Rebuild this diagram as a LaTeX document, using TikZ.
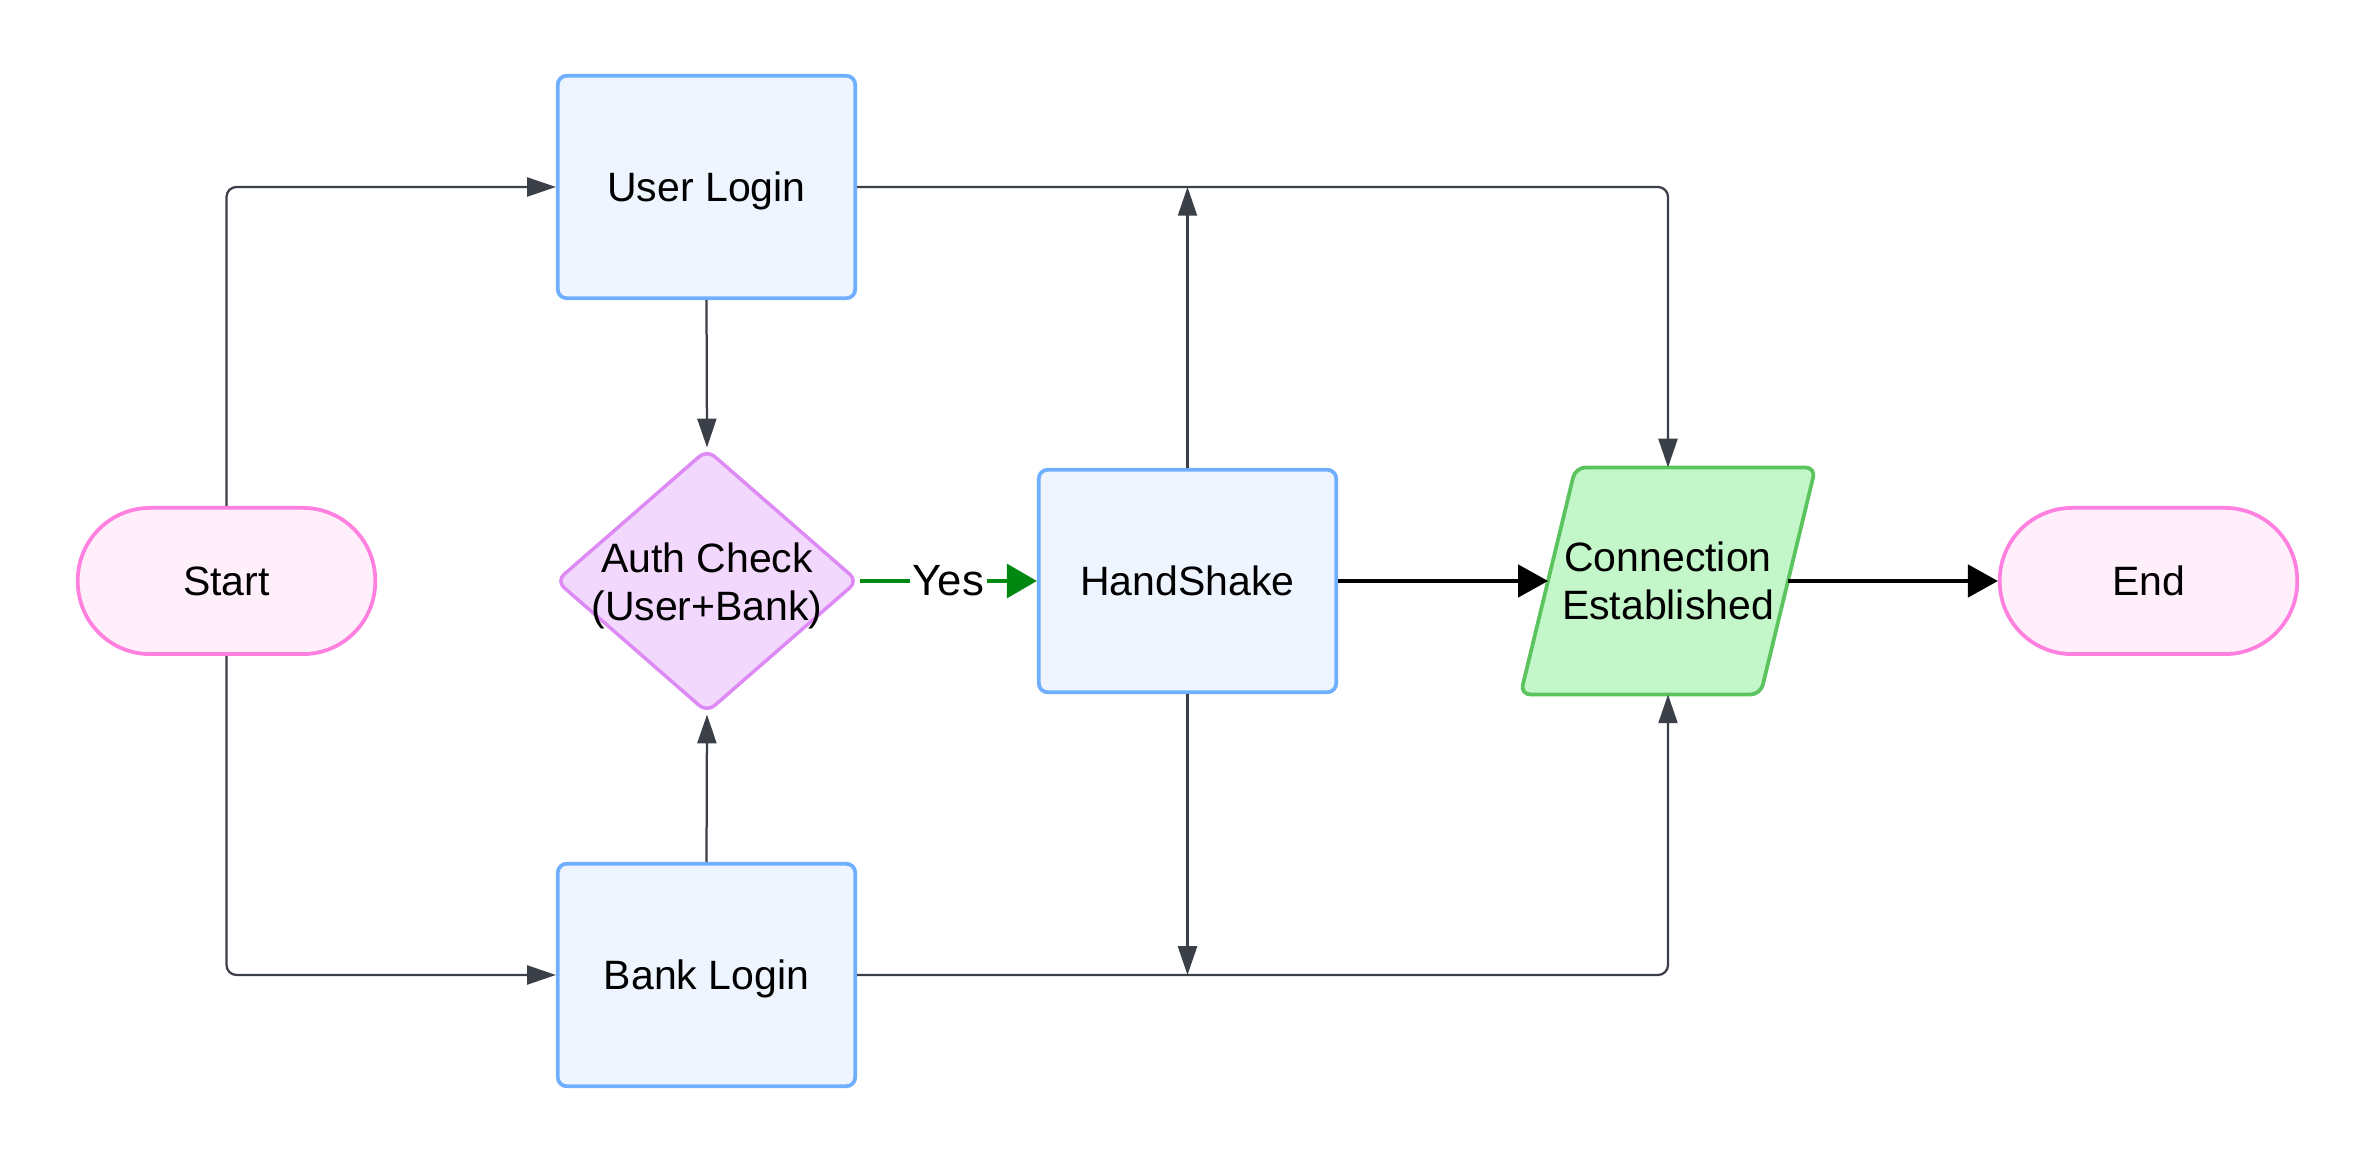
\documentclass[tikz,border=0pt]{standalone}
\usepackage{fontspec}
\setmainfont{Liberation Sans}
\usetikzlibrary{arrows.meta,shapes.geometric,backgrounds}
\definecolor{termfill}{RGB}{254,239,250}
\definecolor{termdraw}{RGB}{255,128,222}
\definecolor{procfill}{RGB}{238,245,255}
\definecolor{procdraw}{RGB}{110,176,255}
\definecolor{decfill}{RGB}{242,216,253}
\definecolor{decdraw}{RGB}{222,138,245}
\definecolor{connfill}{RGB}{195,246,200}
\definecolor{conndraw}{RGB}{92,196,94}
\definecolor{greyline}{RGB}{59,63,71}
\definecolor{yesgreen}{RGB}{0,136,16}
\tikzset{
  base/.style={font=\fontsize{16.4pt}{19pt}\selectfont, text=black, align=center},
  oneline/.style={text height=11.7pt, text depth=0pt},
  term/.style={base, oneline, rectangle, rounded corners=29pt, draw=termdraw, fill=termfill,
    line width=1.5pt, minimum width=119pt, minimum height=58.5pt, inner sep=0pt},
  proc/.style={base, oneline, rectangle, rounded corners=3.6pt, draw=procdraw, fill=procfill,
    line width=1.5pt, minimum width=119pt, minimum height=89pt, inner sep=0pt},
  decision/.style={diamond, rounded corners=4pt, draw=decdraw, fill=decfill,
    line width=1.4pt, minimum width=121pt, minimum height=105.5pt, inner sep=0pt},
  iobox/.style={base, rectangle, minimum width=95.6pt, minimum height=90.4pt, inner sep=0pt},
  ioshape/.style={draw=conndraw, fill=connfill, line width=1.5pt, rounded corners=4pt},
  garrow/.style={draw=greyline, line width=0.9pt, rounded corners=4pt,
    -{Triangle[length=11.5pt,width=7.6pt]}},
  karrow/.style={draw=black, line width=1.3pt, -{Triangle[length=12pt,width=13pt]}},
  yesarrow/.style={draw=yesgreen, line width=1.6pt, -{Triangle[length=12pt,width=13.5pt]}},
  edgelabel/.style={font=\fontsize{17.5pt}{20pt}\selectfont, text=black, oneline,
    fill=white, inner xsep=1pt, inner ysep=2pt},
}
\begin{document}
\begin{tikzpicture}[x=0.4pt,y=-0.4pt]
\useasboundingbox (0,0) rectangle (2374,1163);

\node[term] (start) at (226.5,581) {Start};
\node[proc] (ulogin) at (706.5,187) {User Login};
\node[proc] (blogin) at (706.5,975) {Bank Login};
\node[decision] (auth) at (707,581) {};
\node[base, yshift=-2pt] (authtext) at (auth.center) {Auth Check\\(User+Bank)};
\node[proc] (hs) at (1187.5,581) {HandShake};
\node[iobox] (conn) at (1668,581) {Connection\\Established};
\begin{scope}[on background layer]
  \draw[ioshape] ([xshift=-11pt]conn.south west) -- ([xshift=11pt]conn.north west)
    -- ([xshift=11pt]conn.north east) -- ([xshift=-11pt]conn.south east) -- cycle;
\end{scope}
\node[term] (end) at (2148.5,581) {End};

\draw[garrow] (start.north) |- (ulogin.west);
\draw[garrow] (start.south) |- (blogin.west);
\draw[garrow] (ulogin.south) -- (auth.north);
\draw[garrow] (blogin.north) -- (auth.south);
\draw[yesarrow] (auth.east) -- node[edgelabel] {Yes} (hs.west);
\draw[garrow] (hs.north) -- (hs.north |- ulogin.east);
\draw[garrow] (hs.south) -- (hs.south |- blogin.east);
\draw[garrow] (ulogin.east) -| (conn.north);
\draw[garrow] (blogin.east) -| (conn.south);
\draw[karrow] (hs.east) -- (conn.west);
\draw[karrow] (conn.east) -- (end.west);
\end{tikzpicture}
\end{document}
